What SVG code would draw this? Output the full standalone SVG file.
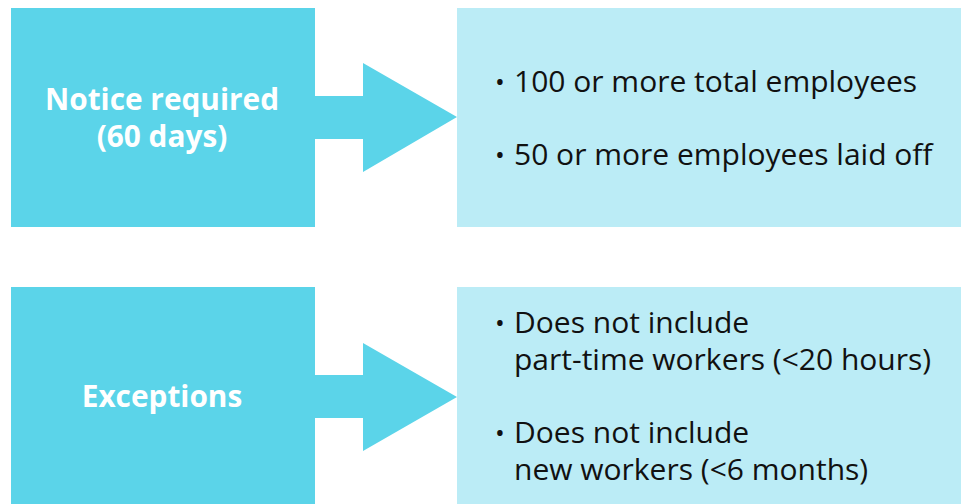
<svg xmlns="http://www.w3.org/2000/svg" width="961" height="504" viewBox="0 0 961 504">
<style>
.dark{fill:#5bd4e9}
.light{fill:#bbecf6}
.title{font-family:"Open Sans","Noto Sans",sans-serif;font-weight:bold;font-size:29.8px;fill:#ffffff;text-anchor:middle}
.item{font-family:"Open Sans","Noto Sans",sans-serif;font-size:30px;fill:#111111}
.bullet{font-family:"Open Sans","Noto Sans",sans-serif;font-size:26px;fill:#111111}
</style>
<rect width="961" height="504" fill="#ffffff"/>
<g id="notice">
<rect class="dark" x="11" y="8" width="304" height="219"/>
<text class="title" x="162" y="110">Notice required</text>
<text class="title" x="162" y="147">(60 days)</text>
</g>
<g id="notice-details">
<rect class="light" x="457" y="8" width="504" height="219"/>
<text class="bullet" x="495" y="91">•</text>
<text class="item" x="514" y="92">100 or more total employees</text>
<text class="bullet" x="495" y="164">•</text>
<text class="item" x="514" y="165">50 or more employees laid off</text>
</g>
<g id="exceptions">
<rect class="dark" x="11" y="287" width="304" height="217"/>
<text class="title" x="162" y="407">Exceptions</text>
</g>
<g id="exceptions-details">
<rect class="light" x="457" y="287" width="504" height="217"/>
<text class="bullet" x="495" y="332">•</text>
<text class="item" x="514" y="333">Does not include</text>
<text class="item" x="514" y="370">part-time workers (&lt;20 hours)</text>
<text class="bullet" x="495" y="442">•</text>
<text class="item" x="514" y="443">Does not include</text>
<text class="item" x="514" y="480">new workers (&lt;6 months)</text>
</g>
<g id="connectors">
<polygon class="dark" points="315,96 363,96 363,63 457,117 363,172 363,139 315,139"/>
<polygon class="dark" points="315,375 363,375 363,343 457,397 363,451 363,418 315,418"/>
</g>
</svg>
